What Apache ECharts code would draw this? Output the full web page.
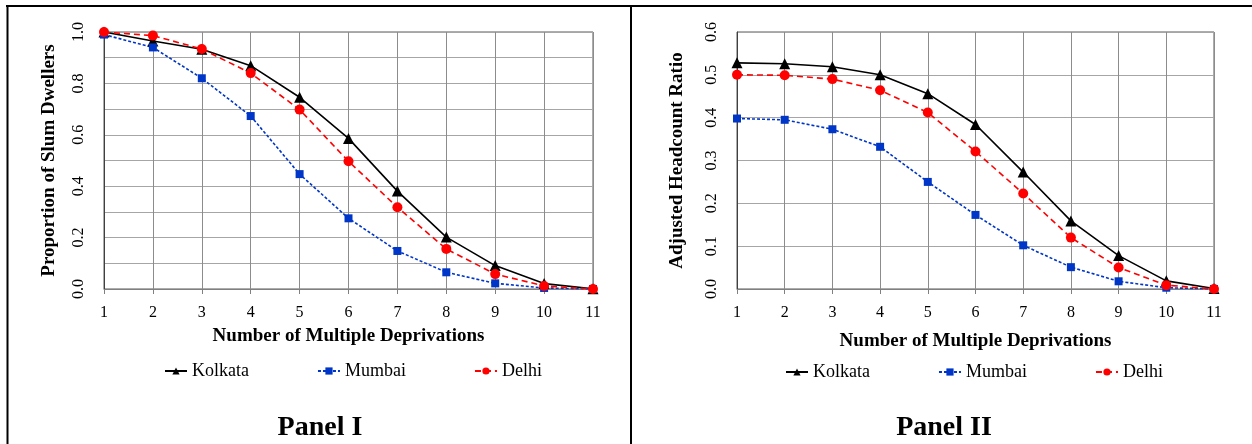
<!DOCTYPE html>
<html>
<head>
<meta charset="utf-8">
<script src="https://cdn.jsdelivr.net/npm/echarts@6/dist/echarts.min.js"></script>
<style>
  html, body { margin: 0; padding: 0; background: #fff; }
  #chart { width: 1252px; height: 444px; }
</style>
</head>
<body>
<div id="chart"></div>
<script>
var deprivations = [1, 2, 3, 4, 5, 6, 7, 8, 9, 10, 11];
var cities = ['Kolkata', 'Mumbai', 'Delhi'];

// Panel I : proportion of slum dwellers
var kolkataProp = [1.0, 0.965, 0.933, 0.869, 0.746, 0.586, 0.381, 0.202, 0.091, 0.021, 0.001];
var mumbaiProp  = [0.99, 0.94, 0.82, 0.673, 0.447, 0.275, 0.148, 0.065, 0.022, 0.004, 0.0];
var delhiProp   = [1.0, 0.986, 0.934, 0.84, 0.698, 0.497, 0.318, 0.156, 0.058, 0.012, 0.0];

// Panel II : adjusted headcount ratio
var kolkataAHR = [0.528, 0.526, 0.519, 0.50, 0.456, 0.384, 0.273, 0.159, 0.078, 0.019, 0.001];
var mumbaiAHR  = [0.398, 0.395, 0.373, 0.332, 0.25, 0.173, 0.102, 0.051, 0.018, 0.003, 0.0];
var delhiAHR   = [0.50, 0.499, 0.49, 0.464, 0.412, 0.321, 0.223, 0.12, 0.05, 0.009, 0.0];

var FONT = '"Liberation Serif", "Times New Roman", serif';

function pairs(ys) {
  return deprivations.map(function (x, i) { return [x, ys[i]]; });
}

// line look per city
var looks = {
  Kolkata: { color: '#000000', type: 'solid', symbol: 'triangle', size: 11 },
  Mumbai:  { color: '#0036c8', type: [3, 2], symbol: 'rect', size: 8 },
  Delhi:   { color: '#ff0000', type: [6, 4], symbol: 'circle', size: 10 }
};

function makeSeries(name, ys, idx) {
  var lk = looks[name];
  return {
    name: name,
    type: 'line',
    xAxisIndex: idx,
    yAxisIndex: idx,
    data: pairs(ys),
    symbol: lk.symbol,
    symbolSize: lk.size,
    showSymbol: true,
    itemStyle: { color: lk.color },
    lineStyle: { color: lk.color, width: 1.6, type: lk.type },
    emphasis: { disabled: true },
    animation: false
  };
}

function xAxisCfg(idx, gap) {
  return {
    gridIndex: idx,
    type: 'value',
    min: 1, max: 11, interval: 1,
    name: 'Number of Multiple Deprivations',
    nameLocation: 'middle',
    nameGap: gap,
    nameTextStyle: { fontFamily: FONT, fontWeight: 'bold', fontSize: 19, color: '#000' },
    axisLine: { show: true, lineStyle: { color: '#808080', width: 1 } },
    axisTick: { show: true, length: 5, lineStyle: { color: '#808080' } },
    axisLabel: { fontFamily: FONT, fontSize: 16, color: '#000', margin: 16 },
    splitLine: { show: true, lineStyle: { color: '#8c8c8c', width: 1 } }
  };
}

function yAxisCfg(idx, name, max, gap, everyOther) {
  return {
    gridIndex: idx,
    type: 'value',
    min: 0, max: max, interval: 0.1,
    name: name,
    nameLocation: 'middle',
    nameGap: gap,
    nameRotate: 90,
    nameTextStyle: { fontFamily: FONT, fontWeight: 'bold', fontSize: 19, color: '#000' },
    axisLine: { show: true, lineStyle: { color: '#404040', width: 1 } },
    axisTick: { show: false },
    axisLabel: {
      rotate: 90,
      fontFamily: FONT, fontSize: 16, color: '#000', margin: 17,
      formatter: function (v) {
        var t = Math.round(v * 10);
        if (everyOther && t % 2 !== 0) return '';
        return (t / 10).toFixed(1);
      }
    },
    splitLine: { show: true, lineStyle: { color: '#a6a6a6', width: 1 } }
  };
}

function legendCfg(left, top) {
  return {
    data: cities,
    left: left,
    top: top,
    itemWidth: 22,
    itemHeight: 9,
    itemGap: 68,
    textStyle: { fontFamily: FONT, fontSize: 18, color: '#000' },
    selectedMode: false
  };
}

var chart = echarts.init(document.getElementById('chart'), null, { renderer: 'canvas' });

chart.setOption({
  backgroundColor: '#fff',
  animation: false,
  grid: [
    { left: 104, top: 32, width: 489, height: 257, show: true, borderColor: '#595959', borderWidth: 1, backgroundColor: 'transparent' },
    { left: 737, top: 32, width: 477, height: 257, show: true, borderColor: '#595959', borderWidth: 1, backgroundColor: 'transparent' }
  ],
  xAxis: [xAxisCfg(0, 38), xAxisCfg(1, 43)],
  yAxis: [
    yAxisCfg(0, 'Proportion of Slum Dwellers', 1.0, 45, true),
    yAxisCfg(1, 'Adjusted Headcount Ratio', 0.6, 50, false)
  ],
  legend: [legendCfg(159, 357), legendCfg(780, 358)],
  series: [
    makeSeries('Kolkata', kolkataProp, 0),
    makeSeries('Mumbai', mumbaiProp, 0),
    makeSeries('Delhi', delhiProp, 0),
    makeSeries('Kolkata', kolkataAHR, 1),
    makeSeries('Mumbai', mumbaiAHR, 1),
    makeSeries('Delhi', delhiAHR, 1)
  ],
  graphic: [
    { type: 'line', shape: { x1: 6, y1: 6, x2: 1252, y2: 6 }, style: { stroke: '#000', lineWidth: 2 } },
    { type: 'line', shape: { x1: 7.5, y1: 5, x2: 7.5, y2: 444 }, style: { stroke: '#000', lineWidth: 2 } },
    { type: 'line', shape: { x1: 631, y1: 5, x2: 631, y2: 444 }, style: { stroke: '#000', lineWidth: 2 } },
    { type: 'text', x: 320, y: 428, style: { text: 'Panel I', align: 'center', verticalAlign: 'middle', font: 'bold 28px ' + FONT, fill: '#000' } },
    { type: 'text', x: 944, y: 428, style: { text: 'Panel II', align: 'center', verticalAlign: 'middle', font: 'bold 28px ' + FONT, fill: '#000' } }
  ]
});
</script>
</body>
</html>
